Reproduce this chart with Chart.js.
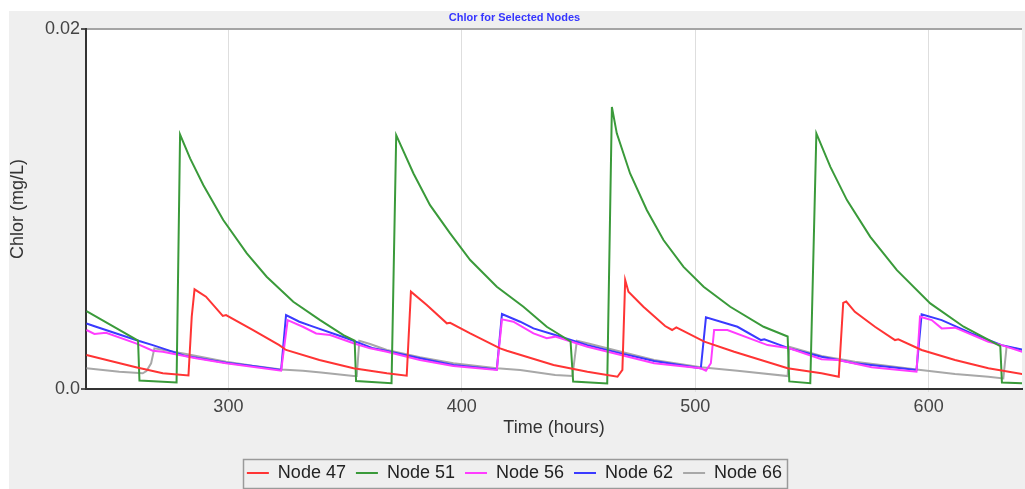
<!DOCTYPE html>
<html>
<head>
<meta charset="utf-8">
<script src="https://cdn.jsdelivr.net/npm/chart.js@4.4.1/dist/chart.umd.min.js"></script>
<style>
  html, body { margin: 0; padding: 0; background: #ffffff; }
  #wrap { width: 1025px; height: 489px; }
</style>
</head>
<body>
<div id="wrap"><canvas id="chart" width="1025" height="489"></canvas></div>
<script>
// Chlorine concentration (mg/L) over simulation time (hours) for five nodes.
const seriesNames = ['Node 47', 'Node 51', 'Node 56', 'Node 62', 'Node 66'];
const seriesColors = ['#ff3434', '#3a9a3a', '#ff3cff', '#3a3aff', '#a8a8a8'];

const node47Hours = [239.2, 260.4, 271.9, 282.9, 284.3, 285.5, 290.4, 297.6, 299.0, 310.4, 321.8, 324.7, 339.0, 353.6, 367.9, 376.4, 378.2, 385.0, 393.6, 395.0, 403.6, 416.4, 419.3, 439.3, 453.8, 466.7, 468.8, 470.0, 471.4, 477.8, 487.1, 490.1, 491.9, 503.9, 516.7, 539.6, 554.1, 561.5, 563.4, 564.7, 568.4, 577.0, 585.6, 587.0, 597.0, 611.3, 625.6, 640.1];
const node47Chlor = [0.00189, 0.00121, 0.00087, 0.00075, 0.00402, 0.00554, 0.00513, 0.00406, 0.00411, 0.00328, 0.00244, 0.00217, 0.00161, 0.00115, 0.00087, 0.00074, 0.00541, 0.00467, 0.00365, 0.00368, 0.00309, 0.00226, 0.00213, 0.00133, 0.00096, 0.00068, 0.00106, 0.00606, 0.00541, 0.00457, 0.00350, 0.00328, 0.00342, 0.00263, 0.00207, 0.00115, 0.00087, 0.00068, 0.00479, 0.00486, 0.00429, 0.00346, 0.00272, 0.00276, 0.00217, 0.00161, 0.00115, 0.00083];

const node51Hours = [239.2, 261.3, 261.9, 277.8, 279.3, 283.6, 289.3, 297.8, 307.9, 316.4, 327.8, 339.3, 349.3, 354.1, 354.7, 369.9, 371.9, 379.3, 386.4, 395.0, 403.6, 415.0, 426.4, 436.4, 446.6, 447.7, 462.3, 464.3, 466.4, 472.1, 479.3, 486.4, 495.0, 503.6, 515.0, 529.3, 539.6, 540.3, 549.3, 551.9, 557.9, 565.0, 575.0, 586.4, 600.7, 615.0, 630.7, 631.4, 640.1];
const node51Chlor = [0.00433, 0.00269, 0.00047, 0.00036, 0.01414, 0.01282, 0.01133, 0.00939, 0.00754, 0.00624, 0.00485, 0.00383, 0.00300, 0.00269, 0.00044, 0.00032, 0.01411, 0.01198, 0.01022, 0.00865, 0.00717, 0.00568, 0.00457, 0.00346, 0.00264, 0.00042, 0.00031, 0.01568, 0.01421, 0.01198, 0.00994, 0.00828, 0.00679, 0.00568, 0.00457, 0.00346, 0.00292, 0.00042, 0.00032, 0.01421, 0.01235, 0.01050, 0.00846, 0.00661, 0.00476, 0.00346, 0.00239, 0.00036, 0.00032];

const node56Hours = [239.2, 242.6, 247.6, 260.4, 267.6, 271.9, 286.1, 299.0, 322.6, 325.4, 331.9, 337.6, 343.6, 353.6, 360.7, 367.9, 382.1, 396.4, 415.0, 417.2, 422.1, 430.7, 436.4, 440.0, 453.8, 468.2, 482.4, 502.4, 504.6, 506.7, 508.1, 513.8, 525.3, 531.0, 540.3, 554.1, 561.3, 575.6, 594.8, 596.3, 601.3, 605.6, 611.3, 625.6, 631.3, 640.1];
const node56Chlor = [0.00328, 0.00306, 0.00313, 0.00254, 0.00213, 0.00207, 0.00171, 0.00143, 0.00102, 0.00383, 0.00346, 0.00309, 0.00300, 0.00254, 0.00226, 0.00207, 0.00161, 0.00128, 0.00106, 0.00387, 0.00374, 0.00309, 0.00282, 0.00291, 0.00235, 0.00189, 0.00143, 0.00115, 0.00102, 0.00143, 0.00328, 0.00328, 0.00272, 0.00244, 0.00226, 0.00165, 0.00161, 0.00121, 0.00096, 0.00402, 0.00383, 0.00337, 0.00341, 0.00263, 0.00244, 0.00207];

const node62Hours = [239.2, 243.3, 260.4, 267.6, 281.9, 299.0, 310.4, 322.6, 324.7, 330.4, 336.3, 350.7, 362.1, 367.9, 382.1, 396.4, 415.0, 417.2, 425.0, 430.7, 440.0, 453.8, 468.2, 482.4, 502.4, 504.6, 518.1, 528.2, 529.6, 540.3, 554.1, 568.4, 594.8, 597.0, 605.6, 618.4, 631.3, 640.1];
const node62Chlor = [0.00364, 0.00346, 0.00272, 0.00244, 0.00183, 0.00146, 0.00128, 0.00106, 0.00411, 0.00374, 0.00347, 0.00282, 0.00226, 0.00211, 0.00171, 0.00133, 0.00109, 0.00417, 0.00374, 0.00337, 0.00300, 0.00244, 0.00198, 0.00156, 0.00115, 0.00398, 0.00346, 0.00272, 0.00276, 0.00226, 0.00179, 0.00143, 0.00106, 0.00415, 0.00383, 0.00309, 0.00244, 0.00219];

const node66Hours = [239.2, 253.3, 263.3, 264.9, 266.9, 268.3, 281.9, 299.0, 310.4, 322.6, 331.9, 339.7, 353.6, 355.0, 356.1, 360.7, 367.9, 382.1, 396.4, 415.0, 425.0, 440.0, 447.4, 449.3, 453.8, 468.2, 482.4, 502.4, 518.1, 539.6, 540.3, 554.1, 568.4, 594.8, 611.3, 625.6, 632.0, 633.4, 640.1];
const node66Chlor = [0.00115, 0.00096, 0.00087, 0.00100, 0.00143, 0.00226, 0.00194, 0.00152, 0.00129, 0.00109, 0.00102, 0.00092, 0.00072, 0.00072, 0.00268, 0.00250, 0.00217, 0.00176, 0.00143, 0.00115, 0.00106, 0.00078, 0.00072, 0.00268, 0.00254, 0.00207, 0.00161, 0.00121, 0.00102, 0.00072, 0.00235, 0.00183, 0.00152, 0.00109, 0.00083, 0.00068, 0.00059, 0.00235, 0.00217];

const xTickValues = [300, 400, 500, 600];
const yTickValues = [0, 0.02];
const yTickLabels = ['0.0', '0.02'];

const hoursBySeries = [node47Hours, node51Hours, node56Hours, node62Hours, node66Hours];
const chlorBySeries = [node47Chlor, node51Chlor, node56Chlor, node62Chlor, node66Chlor];

const FONT = "'Liberation Sans', Arial, sans-serif";

const datasets = seriesNames.map((name, s) => ({
  label: name,
  data: hoursBySeries[s].map((h, i) => ({ x: h, y: chlorBySeries[s][i] })),
  borderColor: seriesColors[s],
  backgroundColor: seriesColors[s],
  borderWidth: 2,
  pointRadius: 0,
  tension: 0,
  fill: false
}));

// Grey panel behind the chart, white plotting area.
const panelPlugin = {
  id: 'panel',
  beforeDraw(chart) {
    const { ctx, chartArea: a } = chart;
    ctx.save();
    ctx.fillStyle = '#ffffff';
    ctx.fillRect(0, 0, chart.width, chart.height);
    ctx.fillStyle = '#efefef';
    ctx.fillRect(9, 11, chart.width - 9, chart.height - 11);
    ctx.fillStyle = '#ffffff';
    ctx.fillRect(a.left, a.top, a.right - a.left, a.bottom - a.top);
    ctx.restore();
  }
};

// Nudge the legend row down and frame it with a thin border.
const legendFramePlugin = {
  id: 'legendFrame',
  afterLayout(chart) {
    const lg = chart.legend;
    if (lg) { lg.top += 3; lg.bottom += 3; }
  },
  afterDraw(chart) {
    const lg = chart.legend;
    if (!lg || !lg.legendHitBoxes || !lg.legendHitBoxes.length) return;
    const boxes = lg.legendHitBoxes;
    const left = Math.min(...boxes.map(b => b.left)) - 4;
    const right = Math.max(...boxes.map(b => b.left + b.width)) + 5;
    const cy = lg.top + lg.options.labels.padding + 9;
    const ctx = chart.ctx;
    ctx.save();
    ctx.strokeStyle = '#9a9a9a';
    ctx.lineWidth = 1.5;
    ctx.strokeRect(Math.round(left) + 0.5, Math.round(cy - 14) + 0.5, Math.round(right - left), 29);
    ctx.restore();
  }
};

new Chart(document.getElementById('chart'), {
  type: 'line',
  data: { datasets },
  plugins: [panelPlugin, legendFramePlugin],
  options: {
    responsive: false,
    animation: false,
    devicePixelRatio: 1,
    layout: { padding: { left: 7, top: 11, right: 3, bottom: 0 } },
    plugins: {
      title: {
        display: true,
        text: 'Chlor for Selected Nodes',
        color: '#3535ff',
        font: { family: FONT, size: 11, weight: 'bold' },
        padding: { top: 0, bottom: 5 }
      },
      legend: {
        display: true,
        position: 'bottom',
        labels: {
          usePointStyle: true,
          pointStyle: 'line',
          pointStyleWidth: 22,
          padding: 10,
          color: '#222222',
          font: { family: FONT, size: 18 }
        }
      },
      tooltip: { enabled: false }
    },
    scales: {
      x: {
        type: 'linear',
        min: 239,
        max: 640,
        afterBuildTicks(scale) { scale.ticks = xTickValues.map(v => ({ value: v })); },
        afterFit(scale) {
          const lh = scale.chart.legend ? scale.chart.legend.height : 38;
          scale.height = 489 - 389 - lh;
        },
        ticks: {
          color: '#444444',
          font: { family: FONT, size: 18 },
          padding: 4,
          maxRotation: 0,
          callback: v => String(v)
        },
        grid: { color: '#dedede', lineWidth: 1, tickLength: 3, tickColor: '#dedede' },
        border: { display: true, color: '#333333', width: 2 },
        title: {
          display: true,
          text: 'Time (hours)',
          color: '#333333',
          font: { family: FONT, size: 18 },
          padding: { top: 0, bottom: 12 }
        }
      },
      y: {
        type: 'linear',
        min: 0,
        max: 0.02,
        afterBuildTicks(scale) { scale.ticks = yTickValues.map(v => ({ value: v })); },
        afterFit(scale) { scale.width = 79; },
        ticks: {
          color: '#444444',
          font: { family: FONT, size: 18 },
          padding: 1,
          callback: (v) => yTickLabels[yTickValues.indexOf(v)]
        },
        grid: {
          color: c => (c.tick && c.tick.value === 0.02 ? '#a4a4a4' : 'rgba(0,0,0,0)'),
          lineWidth: 2,
          tickLength: 5,
          tickColor: '#555555'
        },
        border: { display: true, color: '#333333', width: 2 },
        title: {
          display: true,
          text: 'Chlor (mg/L)',
          color: '#333333',
          font: { family: FONT, size: 18 },
          padding: { top: 0, bottom: 0 }
        }
      }
    }
  }
});
</script>
</body>
</html>
